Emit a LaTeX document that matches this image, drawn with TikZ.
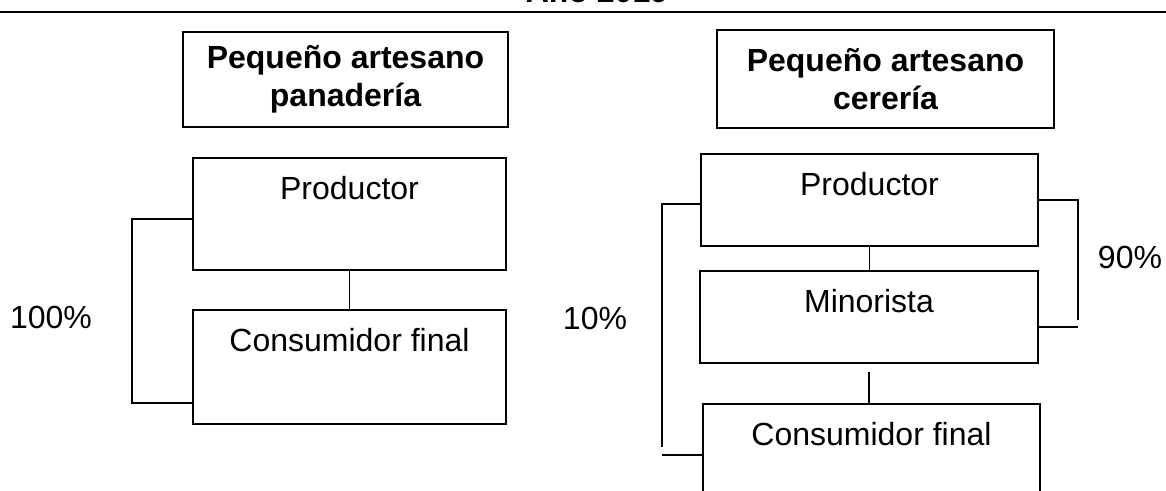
\documentclass[tikz,border=0pt]{standalone}
\usepackage{fontspec}
\setmainfont{Liberation Sans}
\usepackage{tikz}

\begin{document}
\begin{tikzpicture}[x=0.75pt,y=-0.75pt,
  txt/.style={font=\fontsize{24}{28.5}\selectfont},
  headbox/.style={draw,line width=1.4pt,inner sep=0pt,align=center,font=\fontsize{24}{28.5}\selectfont\bfseries},
  stage/.style={draw,line width=1.3pt,inner sep=0pt,anchor=north,text height=31.5pt,txt},
  link/.style={line width=1pt}]
\clip (0,0) rectangle (1166,491);

\node[txt,font=\fontsize{24}{28.5}\selectfont\bfseries,anchor=base] (year) at (597,3) {Año 2019};
\draw[line width=1.5pt] (0,12) -- (1166,12);

\node[headbox,minimum width=243.75pt,minimum height=71.25pt] (tpan) at (345.5,79.5) {Pequeño artesano\\panadería};
\node[headbox,minimum width=252.75pt,minimum height=73.5pt] (tcer) at (885.5,79) {Pequeño artesano\\cerería};

\node[stage,minimum width=234.75pt,text depth=52.5pt] (prodA) at (349.5,157) {Productor};
\node[stage,minimum width=234.75pt,text depth=54pt] (consA) at (349.5,309) {Consumidor final};

\node[stage,minimum width=252.75pt,text depth=37.5pt] (prodB) at (869.5,153) {Productor};
\node[stage,minimum width=253.5pt,text depth=37.5pt] (minB) at (869,270) {Minorista};
\node[stage,minimum width=252.75pt,text depth=51pt] (consB) at (871.5,403) {Consumidor final};

\draw[link] (prodA) -- (consA);
\draw[link] (prodB.south) -- (prodB.south |- minB.north);
\draw[link,shorten <=6pt] (minB.south) -- (minB.south |- consB.north);

\draw[line width=1.5pt] (prodA.west |- 0,219) -| (132,403) -- (consA.west |- 0,403);

\coordinate (tenEnd) at (662,447);
\draw[link] (prodB.west |- 0,204) -| (tenEnd);
\draw[link] (consB.west |- 0,455) -- (662,455);

\coordinate (ninetyEnd) at (1078,320);
\draw[link] (prodB.east |- 0,200) -| (ninetyEnd);
\draw[link] (minB.east |- 0,327) -- (1078,327);

\node[txt] (p100) at (51,317) {100\%};
\node[txt] (p10) at (595,318) {10\%};
\node[txt] (p90) at (1130,257) {90\%};
\end{tikzpicture}
\end{document}
